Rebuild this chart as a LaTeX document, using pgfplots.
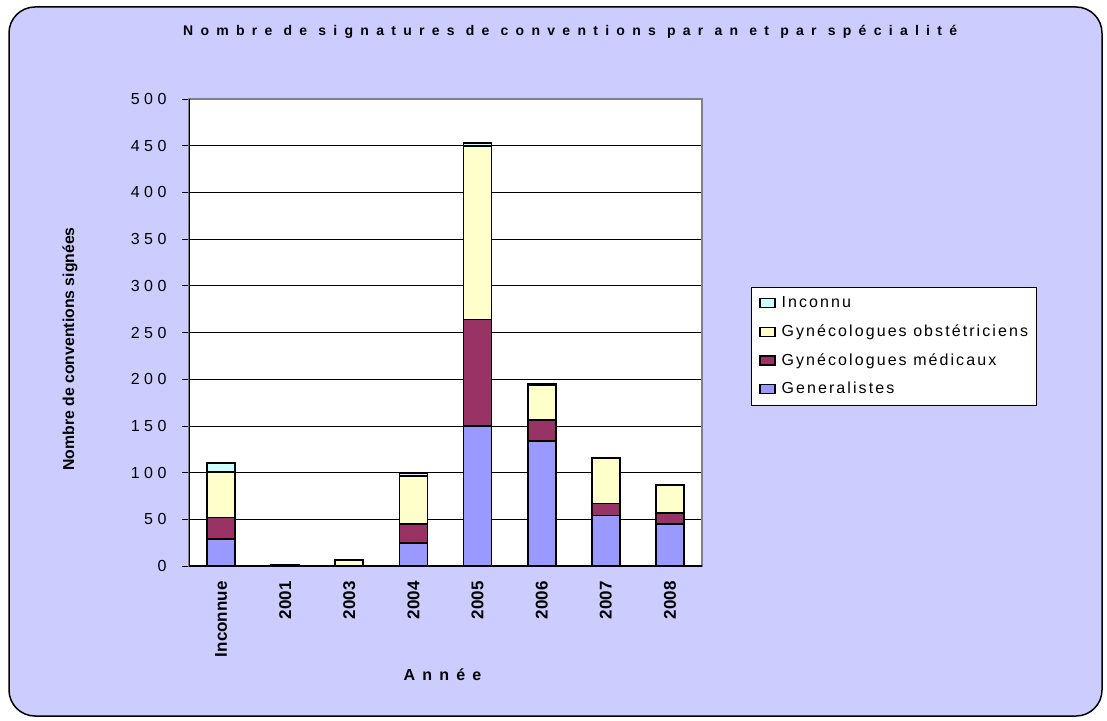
\documentclass[border=0pt]{standalone}
\usepackage{fontspec}
\setmainfont{Liberation Sans}
\newfontfamily\titlefont[LetterSpace=52]{Liberation Sans}
\newfontfamily\tickfont[LetterSpace=28]{Liberation Sans}
\newfontfamily\legfont[LetterSpace=13]{Liberation Sans}
\newfontfamily\wide[LetterSpace=45]{Liberation Sans}
\usepackage{pgfplots}
\pgfplotsset{compat=1.18}
\definecolor{bgchart}{HTML}{CCCCFF}
\definecolor{cgen}{HTML}{9999FF}
\definecolor{cmed}{HTML}{993366}
\definecolor{cobs}{HTML}{FFFFCC}
\definecolor{cinc}{HTML}{CCFFFF}
\begin{document}
\begin{tikzpicture}
% chart area
\fill[white] (0pt,0pt) rectangle (1107pt,720pt);
\draw[line width=1.5pt, fill=bgchart, rounded corners=26pt] (9pt,4pt) rectangle (1102pt,713pt);
\begin{axis}[
    at={(189pt,154pt)}, anchor=south west,
    scale only axis, width=513pt, height=467pt,
    ybar stacked, bar width=28pt,
    xmin=-0.5, xmax=7.5, ymin=0, ymax=500,
    xtick=data,
    xticklabels={Inconnue,2001,2003,2004,2005,2006,2007,2008},
    xticklabel style={rotate=90, anchor=east, font=\fontsize{17}{20}\selectfont\bfseries},
    xticklabel shift=5pt,
    xtick style={draw=none},
    ytick={0,50,...,500},
    ytick pos=left,
    yticklabel style={font=\fontsize{16}{19}\selectfont\tickfont, xshift=-12pt},
    /pgf/number format/assume math mode=true,
    tick align=outside, major tick length=7pt,
    ytick style={black, line width=0.8pt},
    ymajorgrids, grid style={black, line width=0.7pt},
    axis line style={draw=gray, line width=1.2pt},
    axis background/.style={fill=white},
    title={\titlefont\bfseries Nombre de signatures de conventions par an et par spécialité},
    title style={at={(axis description cs:0.743,1.131)}, anchor=center, font=\fontsize{14}{17}\selectfont},
    xlabel={\wide\bfseries Année},
    xlabel style={at={(axis description cs:0.494,-0.233)}, anchor=center, font=\fontsize{16}{19}\selectfont},
    ylabel={\bfseries Nombre de conventions signées},
    ylabel style={at={(axis description cs:-0.232,0.465)}, anchor=center, font=\fontsize{15.8}{19}\selectfont},
    legend style={at={(axis description cs:1.0955,0.597)}, anchor=north west,
        draw=black, line width=0.8pt, fill=white,
        font=\fontsize{16}{19}\selectfont\legfont,
        nodes={inner sep=0pt, text height=12pt, text depth=4pt},
        row sep=12.7pt, column sep=6pt, inner sep=8pt},
    legend cell align=left,
    reverse legend,
    legend image code/.code={\draw[#1, line width=1.2pt] (0pt,-4pt) rectangle (15pt,5pt);},
]
\addplot[draw=black, line width=1.8pt, fill=cgen] coordinates {(0,29) (1,0) (2,0) (3,25) (4,150) (5,134) (6,54) (7,45)};
\addplot[draw=black, line width=1.8pt, fill=cmed] coordinates {(0,23) (1,1) (2,0) (3,20) (4,114) (5,22) (6,13) (7,12)};
\addplot[draw=black, line width=1.8pt, fill=cobs] coordinates {(0,49) (1,0) (2,6) (3,51) (4,186) (5,38) (6,49) (7,30)};
\addplot[draw=black, line width=1.8pt, fill=cinc] coordinates {(0,9) (1,0) (2,0) (3,4) (4,3) (5,1) (6,0) (7,0)};
\legend{Generalistes, Gynécologues médicaux, Gynécologues obstétriciens, Inconnu}
\draw[black, line width=1.2pt] (rel axis cs:0,0) -- (rel axis cs:0,1);
\draw[black, line width=1.2pt] (rel axis cs:0,0) -- (rel axis cs:1,0);
\end{axis}
\end{tikzpicture}
\end{document}
